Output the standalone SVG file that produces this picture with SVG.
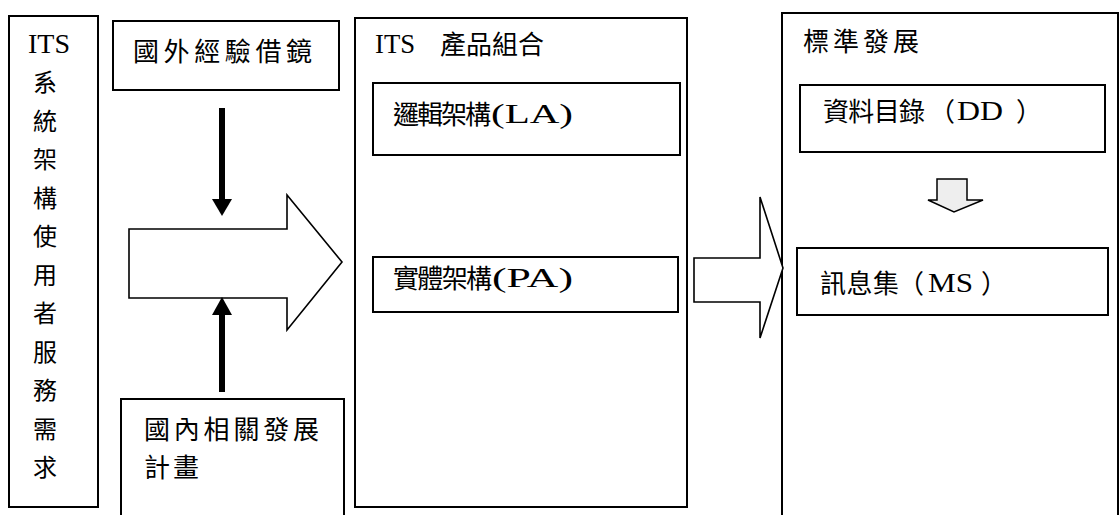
<svg xmlns="http://www.w3.org/2000/svg" width="1120" height="515" viewBox="0 0 1120 515">
<style>
.box{fill:#fff;stroke:#000;stroke-width:2}
.big{fill:#fff;stroke:#000;stroke-width:1.6;stroke-linejoin:miter}
.t{font-family:"Noto Sans CJK TC","Liberation Serif",sans-serif;font-size:26px;fill:#000}
.l{font-family:"Liberation Serif","Noto Sans CJK TC",serif;font-size:27px;fill:#000}
.v{font-family:"Noto Sans CJK TC","Liberation Serif",sans-serif;font-size:24px;fill:#000;text-anchor:middle}
</style>
<rect width="1120" height="515" fill="#fff"/>
<g id="left-needs">
<rect class="box" x="9" y="16" width="89" height="491"/>
<text class="l" x="28" y="53" textLength="42" lengthAdjust="spacingAndGlyphs">ITS</text>
<text class="v" x="45" y="91">系</text>
<text class="v" x="45" y="129.5">統</text>
<text class="v" x="45" y="168">架</text>
<text class="v" x="45" y="206.5">構</text>
<text class="v" x="45" y="245">使</text>
<text class="v" x="45" y="283.5">用</text>
<text class="v" x="45" y="322">者</text>
<text class="v" x="45" y="360.5">服</text>
<text class="v" x="45" y="399">務</text>
<text class="v" x="45" y="437.5">需</text>
<text class="v" x="45" y="476">求</text>
</g>
<g id="foreign">
<rect class="box" x="113" y="21" width="226" height="69"/>
<text class="t" x="133" y="61" textLength="179" lengthAdjust="spacing">國外經驗借鏡</text>
</g>
<g id="domestic">
<rect class="box" x="121" y="399" width="223" height="130"/>
<text class="t" x="144" y="439" textLength="175" lengthAdjust="spacing">國內相關發展</text>
<text class="t" x="144" y="477" textLength="55" lengthAdjust="spacing">計畫</text>
</g>
<g id="products">
<rect class="box" x="355" y="18" width="332" height="489"/>
<text class="l" x="375" y="53" textLength="40" lengthAdjust="spacingAndGlyphs">ITS</text>
<text class="t" x="440" y="54" textLength="104" lengthAdjust="spacing">產品組合</text>
<g id="la">
<rect class="box" x="373" y="83" width="307" height="72"/>
<text class="t" x="393" y="124" textLength="98" lengthAdjust="spacing">邏輯架構</text>
<text class="l" x="491" y="123" textLength="82" lengthAdjust="spacingAndGlyphs">(LA)</text>
</g>
<g id="pa">
<rect class="box" x="373" y="257" width="305" height="55"/>
<text class="t" x="393" y="288" textLength="99" lengthAdjust="spacing">實體架構</text>
<text class="l" x="492" y="287" textLength="81" lengthAdjust="spacingAndGlyphs">(PA)</text>
</g>
</g>
<g id="standards">
<rect class="box" x="782" y="13" width="336" height="520"/>
<text class="t" x="803" y="51" textLength="116" lengthAdjust="spacing">標準發展</text>
<g id="dd">
<rect class="box" x="800" y="85" width="305" height="67"/>
<text class="t" x="823" y="121" textLength="102" lengthAdjust="spacing">資料目錄</text>
<text class="t" x="929" y="121">（</text>
<text class="l" x="957" y="120" textLength="46" lengthAdjust="spacingAndGlyphs">DD</text>
<text class="t" x="1016" y="121">）</text>
</g>
<g id="ms">
<rect class="box" x="797" y="248" width="311" height="67"/>
<text class="t" x="820" y="293" textLength="79" lengthAdjust="spacing">訊息集</text>
<text class="t" x="898" y="293">（</text>
<text class="l" x="928" y="292" textLength="45" lengthAdjust="spacingAndGlyphs">MS</text>
<text class="t" x="981" y="293">）</text>
</g>
</g>
<g id="connectors">
<polygon class="big" points="129,229 287,229 287,195 342,262 287,330 287,298 129,298"/>
<polygon class="big" points="694,258 760,258 760,197 783,268 760,338 760,302 694,302"/>
<line x1="222" y1="108" x2="222" y2="202" stroke="#000" stroke-width="6"/>
<polygon points="212,199 232,199 222,216" fill="#000"/>
<line x1="222" y1="392" x2="222" y2="312" stroke="#000" stroke-width="6"/>
<polygon points="212,315 232,315 222,297" fill="#000"/>
<polygon points="937,179 967,179 967,200 983,200 954,212 928,200 937,200" fill="#eeeeee" stroke="#000" stroke-width="1.5"/>
</g>
</svg>
